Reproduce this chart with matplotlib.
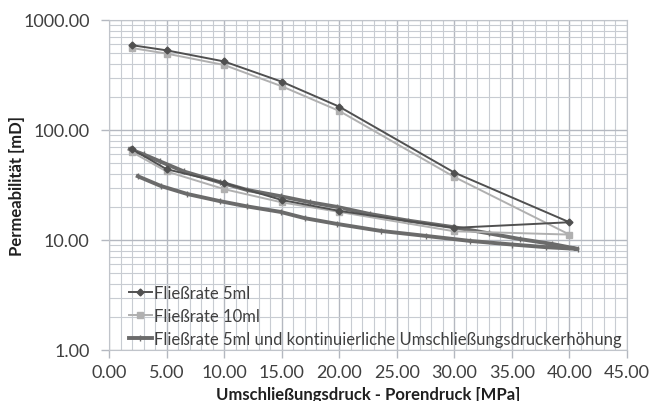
import matplotlib
matplotlib.use("Agg")
import matplotlib.pyplot as plt
from matplotlib.ticker import MultipleLocator, FixedLocator, FuncFormatter, LogLocator, NullFormatter

plt.rcParams['font.family'] = ['Lato', 'DejaVu Sans']

# Fließrate 5ml: loading then unloading
x_5ml = [2, 5, 10, 15, 20, 30, 40, 30, 20, 15, 10, 5, 2]
y_5ml = [590, 530, 420, 275, 163, 41, 14.5, 12.9, 18.4, 23.1, 33, 44, 67]

# Fließrate 10ml
x_10ml = [2, 5, 10, 15, 20, 30, 40, 30, 20, 15, 10, 5, 2]
y_10ml = [556, 495, 390, 250, 149, 37.4, 11.2, 12.0, 18, 22, 29, 42, 63]

# Fließrate 5ml, continuous confining pressure increase (down upper band, back lower band)
x_cont = [1.8, 3.0, 4.4, 6.5, 9.6, 12.0, 14.9, 17.5, 19.8, 22.7, 26.0, 29.9, 33.0, 35.7, 38.5, 40.7,
          38.0, 35.0, 31.4, 27.5, 23.6, 19.8, 17.0, 14.9, 12.0, 9.6, 6.8, 4.5, 2.5]
y_cont = [67, 60, 52, 42, 33.6, 28.5, 25, 22, 20, 17.2, 15, 13.1, 11.5, 10.2, 9.2, 8.3,
          8.6, 9.1, 9.8, 10.9, 12.1, 14, 15.8, 18, 20.2, 22.6, 26.2, 31, 38]

xticks = [0, 5, 10, 15, 20, 25, 30, 35, 40, 45]
yticks = [1, 10, 100, 1000]

fig = plt.figure(figsize=(6.49, 4.02), dpi=100)
ax = fig.add_axes([109 / 649, 1 - 351 / 402, (627 - 109) / 649, (351 - 21) / 402])

grid_col = '#c8ccd2'
ax.plot(x_cont, y_cont, color='#6b6b6b', lw=2.8, marker='|', ms=5, mew=1.0, zorder=3,
        label='Fließrate 5ml und kontinuierliche Umschließungsdruckerhöhung')
ax.plot(x_10ml, y_10ml, color='#b0b0b0', lw=1.4, marker='s', ms=4.5, zorder=4,
        label='Fließrate 10ml')
ax.plot(x_5ml, y_5ml, color='#505050', lw=1.4, marker='D', ms=3.5, zorder=5,
        label='Fließrate 5ml')

ax.set_yscale('log')
ax.set_xlim(0, 45)
ax.set_ylim(1, 1000)
ax.xaxis.set_major_locator(FixedLocator(xticks))
ax.xaxis.set_minor_locator(MultipleLocator(1))
ax.yaxis.set_major_locator(FixedLocator(yticks))
ax.yaxis.set_minor_locator(LogLocator(base=10, subs=range(2, 10)))
ax.yaxis.set_minor_formatter(NullFormatter())
ax.xaxis.set_major_formatter(FuncFormatter(lambda v, p: f"{v:.2f}"))
ax.yaxis.set_major_formatter(FuncFormatter(lambda v, p: f"{v:.2f}"))

ax.grid(which='major', color='#b4b8c0', lw=1.0)
ax.grid(which='minor', color=grid_col, lw=0.8)
ax.set_axisbelow(True)
for s in ax.spines.values():
    s.set_color('#c0c4ca')
ax.tick_params(which='major', length=6, width=1.0, color='#b4b8c0', labelsize=13,
               labelcolor='#404040', pad=8)
ax.tick_params(axis='x', which='major', pad=4)
ax.tick_params(which='minor', length=0)

ax.set_xlabel('Umschließungsdruck - Porendruck [MPa]', fontsize=12, fontweight='bold',
              color='#202020', va='center')
ax.xaxis.set_label_coords(0.5, -0.133)
ax.set_ylabel('Permeabilität [mD]', fontsize=12, fontweight='bold', color='#202020', va='center')
ax.yaxis.set_label_coords(-0.178, 0.5)

h, l = ax.get_legend_handles_labels()
leg = ax.legend(h[::-1], l[::-1], loc='lower left', bbox_to_anchor=(0.025, -0.01), frameon=False,
                fontsize=12, handlelength=1.4, handletextpad=0.15, labelspacing=0.4,
                labelcolor='#404040', borderaxespad=0)

fig.savefig('out.png', dpi=100)
